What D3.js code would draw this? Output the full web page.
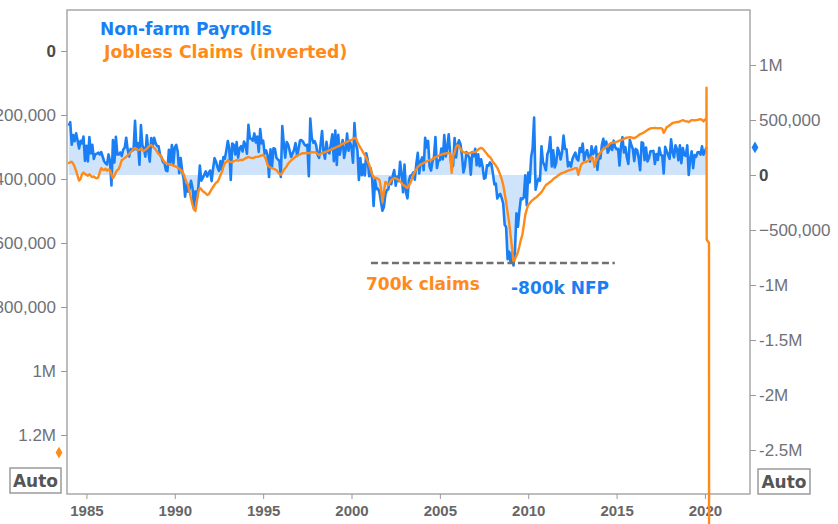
<!DOCTYPE html>
<html lang="en">
  <head>
    <meta charset="utf-8" />
    <script src="https://d3js.org/d3.v7.min.js"></script>
    <style>
      body { margin: 0; background: #fff; }
      svg { display: block; font-family: 'DejaVu Sans', Verdana, sans-serif; }
    </style>
  </head>
  <body>
    <svg id="chart" width="838" height="524"></svg>
    <script>
      // monthly series start here (Jan 1984)
      const startYear = 1984;

      // non-farm payrolls, monthly change (thousands), Jan 1984 .. Feb 2020
      const payrolls = [
        447, 480, 275, 363, 308, 379, 313, 241, 311, 287, 349, 128,
        266, 124, 346, 196, 274, 146, 189, 193, 203, 187, 209, 168,
        125, 107, 94, 187, 127, -94, 318, 114, 347, 186, 186, 205,
        172, 232, 249, 339, 231, 168, 237, 224, 228, 492, 233, 290,
        93, 453, 268, 242, 167, 362, 220, 121, 337, 259, 339, 287,
        262, 260, 181, 161, 116, 110, 40, 35, 230, 112, 272, 100,
        252, 273, 212, 17, 155, 38, -33, -197, -83, -151, -133, -52,
        -115, -301, -148, -211, -112, 85, -52, -28, 1, 33, -14, 18,
        41, -56, 59, 153, 121, 70, 37, 126, 43, 163, 147, 222,
        309, 240, -46, 286, 273, 186, 299, 158, 241, 262, 214, 304,
        272, 194, 457, 332, 329, 311, 378, 295, 350, 210, 418, 288,
        313, 194, 223, 178, -18, 234, 68, 243, 239, 157, 141, 130,
        -17, 444, 285, 158, 300, 277, 221, 164, 195, 229, 290, 174,
        235, 313, 318, 303, 278, 264, 275, -11, 514, 340, 294, 308,
        271, 183, 156, 277, 400, 213, 148, 301, 210, 196, 282, 370,
        125, 404, 92, 365, 184, 258, 317, 156, 226, 377, 221, 299,
        254, 112, 472, 279, 229, -44, 155, -2, 96, -5, 197, 138,
        -11, 61, -30, -281, -44, -128, -125, -160, -244, -325, -292, -178,
        -138, -131, -24, -84, -7, 45, -97, -14, -55, 121, 8, -156,
        95, -158, -212, -49, -6, -1, 24, -42, 101, 201, 15, 124,
        160, 43, 338, 250, 310, 79, 41, 123, 162, 346, 64, 132,
        136, 240, 142, 363, 169, 246, 371, 196, 67, 84, 337, 159,
        277, 315, 280, 182, 23, 80, 208, 184, 156, 3, 208, 171,
        238, 88, 189, 79, 143, 78, -33, -24, 88, 84, 114, 98,
        17, -85, -79, -214, -182, -172, -210, -259, -452, -474, -765, -697,
        -791, -703, -823, -687, -349, -471, -329, -213, -220, -204, -2, -275,
        23, -68, 164, 243, 522, -133, -70, -34, -52, 262, 119, 87,
        43, 189, 225, 346, 77, 225, 69, 110, 248, 209, 141, 209,
        358, 237, 233, 78, 115, 76, 143, 177, 203, 146, 132, 244,
        211, 286, 130, 197, 226, 162, 122, 261, 190, 212, 258, 47,
        190, 151, 272, 329, 246, 304, 202, 230, 280, 227, 312, 255,
        234, 238, 86, 262, 344, 206, 254, 157, 100, 321, 272, 239,
        126, 237, 225, 153, 43, 297, 291, 135, 249, 124, 154, 215,
        216, 219, 100, 191, 136, 247, 183, 177, 14, 256, 218, 182,
        147, 325, 208, 161, 270, 236, 133, 270, 108, 245, 182, 174,
        269, 1, 147, 216, 62, 182, 166, 207, 208, 185, 261, 184,
        214, 251
      ];

      // initial jobless claims, monthly level (thousands), Jan 1984 .. Feb 2020
      const claims = [
        350, 348, 346, 352, 362, 375, 390, 405, 400, 385, 380, 384,
        387, 390, 385, 390, 394, 392, 396, 398, 395, 380, 366, 370,
        372, 368, 374, 370, 372, 385, 397, 390, 378, 372, 368, 355,
        341, 338, 334, 331, 326, 322, 316, 312, 306, 303, 306, 310,
        309, 306, 310, 312, 309, 305, 300, 296, 294, 298, 303, 308,
        315, 322, 325, 332, 340, 347, 350, 352, 354, 356, 356, 358,
        360, 362, 365, 368, 372, 375, 385, 398, 410, 419, 440, 460,
        480, 495, 500, 470, 440, 428, 432, 438, 441, 445, 450, 448,
        440, 432, 425, 418, 412, 409, 400, 388, 378, 362, 350, 347,
        341, 345, 347, 347, 345, 343, 341, 343, 341, 340, 341, 338,
        335, 333, 331, 333, 334, 335, 333, 331, 331, 330, 328, 326,
        325, 330, 340, 356, 362, 364, 366, 368, 370, 372, 378, 384,
        387, 380, 372, 366, 360, 352, 347, 342, 338, 334, 330, 328,
        325, 323, 321, 319, 320, 318, 319, 320, 318, 316, 317, 316,
        318, 322, 325, 322, 319, 318, 316, 314, 312, 310, 309, 306,
        304, 302, 300, 298, 296, 293, 290, 288, 286, 284, 281, 279,
        278, 275, 272, 272, 285, 294, 302, 309, 318, 325, 334, 345,
        356, 370, 385, 394, 396, 397, 400, 403, 428, 472, 440, 409,
        412, 419, 412, 403, 400, 397, 398, 400, 403, 408, 412, 419,
        421, 425, 428, 420, 412, 400, 387, 378, 370, 362, 358, 355,
        352, 350, 347, 345, 343, 341, 340, 338, 335, 331, 330, 328,
        325, 324, 322, 321, 320, 319, 319, 320, 381, 330, 318, 300,
        294, 298, 305, 312, 316, 318, 319, 320, 319, 318, 317, 316,
        316, 312, 308, 305, 303, 305, 310, 316, 322, 328, 331, 338,
        347, 352, 358, 365, 375, 387, 400, 419, 445, 472, 505, 534,
        575, 616, 659, 650, 640, 628, 610, 590, 575, 545, 512, 495,
        481, 476, 470, 466, 462, 459, 455, 450, 446, 441, 434, 426,
        419, 416, 412, 409, 405, 400, 397, 394, 390, 387, 384, 381,
        380, 378, 376, 374, 372, 371, 369, 368, 366, 366, 387, 370,
        355, 350, 347, 347, 345, 341, 338, 331, 335, 362, 345, 335,
        325, 318, 312, 306, 303, 300, 296, 292, 288, 287, 286, 285,
        284, 282, 280, 278, 277, 275, 272, 271, 270, 269, 270, 272,
        272, 270, 267, 263, 260, 258, 256, 253, 250, 247, 244, 242,
        241, 241, 240, 241, 242, 241, 241, 243, 256, 248, 238, 236,
        232, 229, 225, 224, 223, 222, 222, 220, 218, 216, 218, 220,
        220, 222, 219, 216, 216, 217, 216, 215, 214, 213, 215, 220,
        214, 212
      ];

      // March 2020 weekly claims (year, thousands)
      const claimsSpike = [[2020.09, 115], [2020.1, 590], [2020.23, 600], [2020.24, 3300]];

      const yearTicks = [1985, 1990, 1995, 2000, 2005, 2010, 2015, 2020];
      const claimsTicks = [0, 200000, 400000, 600000, 800000, 1000000, 1200000];
      const payrollTicks = [1000000, 500000, 0, -500000, -1000000, -1500000, -2000000, -2500000];

      // annotation: 2009 trough
      const troughNfp = -800000;
      const troughSpan = [2001.1, 2014.9];
      const claimsMarker = 1255000;

      const blue = '#1a7ff5';
      const orange = '#ff8a1a';

      const svg = d3.select('#chart');
      const frame = { left: 67, top: 10, right: 750, bottom: 494 };

      const x = d3.scaleLinear().domain([1983.9, 2022.55]).range([frame.left, frame.right]);
      const yL = d3.scaleLinear().domain([0, 1200000]).range([51, 435]); // claims, inverted
      const yR = d3.scaleLinear().domain([0, 1000000]).range([175, 65]); // payrolls

      const nfpData = payrolls.map((v, i) => [startYear + i / 12, v * 1000]);
      const claimsData = claims
        .map((v, i) => [startYear + i / 12, v * 1000])
        .concat(claimsSpike.map((d) => [d[0], d[1] * 1000]));

      const fmt = function (v) {
        if (v === 0) return '0';
        if (Math.abs(v) >= 1000000) return v / 1000000 + 'M';
        return d3.format(',')(v);
      };

      // frame
      svg.append('rect')
        .attr('x', frame.left)
        .attr('y', frame.top)
        .attr('width', frame.right - frame.left)
        .attr('height', frame.bottom - frame.top)
        .attr('fill', 'none')
        .attr('stroke', '#a8a8a8')
        .attr('stroke-width', 1.5);

      // axes
      const styleAxis = function (g) {
        g.select('.domain').remove();
        g.selectAll('.tick line').attr('stroke', '#999');
        g.selectAll('.tick text').attr('fill', '#6f7179').style('font-size', '17px');
        g.selectAll('.tick text')
          .filter((d) => d === 0)
          .attr('fill', '#4a4a4a')
          .style('font-weight', 'bold');
      };

      svg.append('g')
        .attr('transform', `translate(${frame.left},0)`)
        .call(d3.axisLeft(yL).tickValues(claimsTicks).tickFormat(fmt).tickSize(6).tickPadding(5))
        .call(styleAxis);

      svg.append('g')
        .attr('transform', `translate(${frame.right},0)`)
        .call(d3.axisRight(yR).tickValues(payrollTicks).tickFormat(fmt).tickSize(6).tickPadding(3))
        .call(styleAxis);

      const xAxis = svg.append('g')
        .attr('transform', `translate(0,${frame.bottom})`)
        .call(d3.axisBottom(x).tickValues(yearTicks).tickFormat(d3.format('d')).tickSize(5).tickPadding(6));
      xAxis.select('.domain').remove();
      xAxis.selectAll('.tick line').attr('stroke', '#999');
      xAxis.selectAll('.tick text')
        .attr('fill', '#666')
        .style('font-size', '15px')
        .style('font-weight', 'bold');

      // payrolls fill + line
      svg.append('path')
        .datum(nfpData)
        .attr('fill', '#cfe4fa')
        .attr('d', d3.area().x((d) => x(d[0])).y0(yR(0)).y1((d) => yR(d[1])));

      svg.append('path')
        .datum(nfpData)
        .attr('fill', 'none')
        .attr('stroke', blue)
        .attr('stroke-width', 2.6)
        .attr('stroke-linejoin', 'round')
        .attr('d', d3.line().x((d) => x(d[0])).y((d) => yR(d[1])));

      svg.append('path')
        .datum(claimsData)
        .attr('fill', 'none')
        .attr('stroke', orange)
        .attr('stroke-width', 2.4)
        .attr('stroke-linejoin', 'round')
        .attr('stroke-linecap', 'round')
        .attr('d', d3.line().x((d) => x(d[0])).y((d) => yL(d[1])));

      // trough annotation
      svg.append('line')
        .attr('x1', x(troughSpan[0]))
        .attr('x2', x(troughSpan[1]))
        .attr('y1', yR(troughNfp))
        .attr('y2', yR(troughNfp))
        .attr('stroke', '#707070')
        .attr('stroke-width', 2.5)
        .attr('stroke-dasharray', '7,3.5');

      svg.append('text')
        .attr('x', 366)
        .attr('y', 290)
        .attr('fill', orange)
        .style('font-size', '17px')
        .style('font-weight', 'bold')
        .text('700k claims');

      svg.append('text')
        .attr('x', 511)
        .attr('y', 294)
        .attr('fill', blue)
        .style('font-size', '17px')
        .style('font-weight', 'bold')
        .text('-800k NFP');

      // legend
      svg.append('text')
        .attr('x', 100)
        .attr('y', 35)
        .attr('fill', blue)
        .style('font-size', '17px')
        .style('font-weight', 'bold')
        .text('Non-farm Payrolls');

      svg.append('text')
        .attr('x', 104)
        .attr('y', 57.5)
        .attr('fill', orange)
        .style('font-size', '17.3px')
        .style('font-weight', 'bold')
        .text('Jobless Claims (inverted)');

      // last-value markers
      const diamond = d3.symbol().type(d3.symbolDiamond).size(40);
      svg.append('path')
        .attr('d', diamond)
        .attr('fill', orange)
        .attr('transform', `translate(${frame.left - 8},${yL(claimsMarker)})`);
      svg.append('path')
        .attr('d', diamond)
        .attr('fill', blue)
        .attr('transform', `translate(${frame.right + 5},${yR(payrolls[payrolls.length - 1] * 1000)})`);

      // "Auto" buttons
      const autoButtons = [{ x: 10, y: 468, w: 51 }, { x: 758, y: 469, w: 52 }];
      autoButtons.forEach((b) => {
        svg.append('rect')
          .attr('x', b.x)
          .attr('y', b.y)
          .attr('width', b.w)
          .attr('height', 25)
          .attr('fill', '#fff')
          .attr('stroke', '#9a9a9a')
          .attr('stroke-width', 1.5);
        svg.append('text')
          .attr('x', b.x + b.w / 2)
          .attr('y', b.y + 19)
          .attr('text-anchor', 'middle')
          .attr('fill', '#555')
          .style('font-size', '17px')
          .style('font-weight', 'bold')
          .text('Auto');
      });
    </script>
  </body>
</html>
